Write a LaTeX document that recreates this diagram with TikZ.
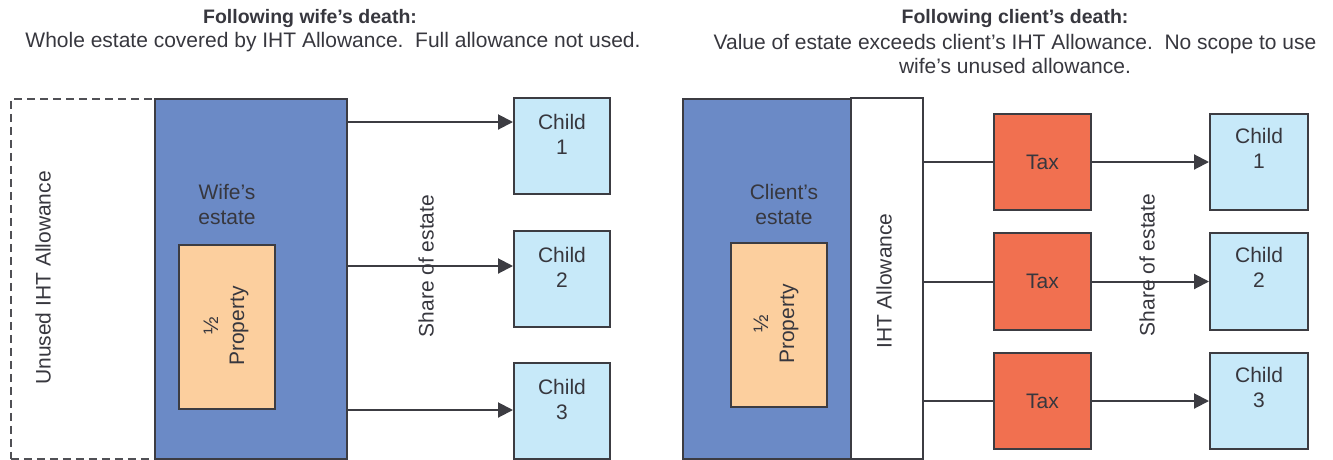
\documentclass[tikz,border=0pt]{standalone}
\usepackage{fontspec}
\setmainfont{Liberation Sans}
\usetikzlibrary{arrows.meta}
\definecolor{estate}{RGB}{107,138,198}
\definecolor{prop}{RGB}{252,207,158}
\definecolor{childc}{RGB}{199,233,249}
\definecolor{taxc}{RGB}{241,112,80}
\definecolor{edgec}{RGB}{60,60,66}
\definecolor{txt}{RGB}{55,55,62}
\begin{document}
\begin{tikzpicture}[x=1pt,y=-1pt,
  box/.style={draw=edgec, line width=2pt, inner sep=0pt, anchor=north west},
  lbl/.style={text=txt, font=\fontsize{21}{25}\selectfont, align=center, inner sep=0pt},
  ttl/.style={text=txt, font=\fontsize{19.5}{24}\selectfont\bfseries, inner sep=0pt},
  arr/.style={draw=edgec, line width=2pt, -{Triangle[length=15pt,width=15pt]}},
  link/.style={draw=edgec, line width=2pt}]
\useasboundingbox (0,0) rectangle (1333,459);

% titles
\node[ttl] (t1) at (310,18) {Following wife’s death:};
\node[lbl] (t1b) at (333,42) {Whole estate covered by IHT Allowance.\ \ Full allowance not used.};
\node[ttl] (t2) at (1015,18) {Following client’s death:};
\node[lbl, font=\fontsize{21}{24}\selectfont] (t2b) at (1015,54) {Value of estate exceeds client’s IHT Allowance.\ \ No scope to use\\wife’s unused allowance.};

% left panel
\node[box, draw=edgec!90, line width=1.5pt, dash pattern=on 8pt off 5pt, minimum width=144pt, minimum height=360pt] (unused) at (10,98) {};
\node[box, fill=estate, minimum width=192pt, minimum height=360pt] (wife) at (154,98) {};
\node[lbl] (wifelbl) at (227,204) {Wife’s\\estate};
\node[box, fill=prop, minimum width=96pt, minimum height=164pt] (wprop) at (178,244) {};
\node[lbl, rotate=90, font=\fontsize{21}{26}\selectfont] (wproplbl) at (226,326) {½\\Property};
\node[lbl, rotate=90] (unusedlbl) at (43,278) {Unused IHT Allowance};

\node[box, fill=childc, minimum width=96pt, minimum height=96pt] (lc1) at (513,97) {};
\node[box, fill=childc, minimum width=96pt, minimum height=96pt] (lc2) at (513,230) {};
\node[box, fill=childc, minimum width=96pt, minimum height=96pt] (lc3) at (513,362) {};
\node[lbl] (lc1l) at ([yshift=-37pt]lc1.north) {Child\\1};
\node[lbl] (lc2l) at ([yshift=-37pt]lc2.north) {Child\\2};
\node[lbl] (lc3l) at ([yshift=-37pt]lc3.north) {Child\\3};

\draw[arr] (wife.east |- 0,122) -- (lc1.west |- 0,122);
\draw[arr] (wife.east |- 0,266) -- (lc2.west |- 0,266);
\draw[arr] (wife.east |- 0,410) -- (lc3.west |- 0,410);
\node[lbl, rotate=90] (lshare) at (426,266) {Share of estate};

% right panel
\node[box, fill=estate, minimum width=168pt, minimum height=360pt] (client) at (682,98) {};
\node[box, fill=white, minimum width=72pt, minimum height=361pt] (iht) at (850,97) {};
\node[lbl] (clientlbl) at (784,204) {Client’s\\estate};
\node[box, fill=prop, minimum width=96pt, minimum height=164pt] (cprop) at (730,242) {};
\node[lbl, rotate=90, font=\fontsize{21}{26}\selectfont] (cproplbl) at (776,324) {½\\Property};
\node[lbl, rotate=90] (ihtlbl) at (884,281) {IHT Allowance};

\node[box, fill=taxc, minimum width=97pt, minimum height=96pt] (tax1) at (993,113) {};
\node[box, fill=taxc, minimum width=97pt, minimum height=97pt] (tax2) at (993,232) {};
\node[box, fill=taxc, minimum width=97pt, minimum height=96pt] (tax3) at (993,352) {};
\node[lbl] at (tax1.center) {Tax};
\node[lbl] at (tax2.center) {Tax};
\node[lbl] at (tax3.center) {Tax};

\node[box, fill=childc, minimum width=98pt, minimum height=96pt] (rc1) at (1209,113) {};
\node[box, fill=childc, minimum width=98pt, minimum height=97pt] (rc2) at (1209,232) {};
\node[box, fill=childc, minimum width=98pt, minimum height=96pt] (rc3) at (1209,352) {};
\node[lbl] (rc1l) at ([yshift=-35.5pt]rc1.north) {Child\\1};
\node[lbl] (rc2l) at ([yshift=-35.5pt]rc2.north) {Child\\2};
\node[lbl] (rc3l) at ([yshift=-35.5pt]rc3.north) {Child\\3};

\draw[link] (iht.east |- tax1.west) -- (tax1.west);
\draw[link] (iht.east |- tax2.west) -- (tax2.west);
\draw[link] (iht.east |- tax3.west) -- (tax3.west);
\draw[arr] (tax1.east) -- (rc1.west);
\draw[arr] (tax2.east) -- (rc2.west);
\draw[arr] (tax3.east) -- (rc3.west);
\node[lbl, rotate=90] (rshare) at (1147,265) {Share of estate};
\end{tikzpicture}
\end{document}
